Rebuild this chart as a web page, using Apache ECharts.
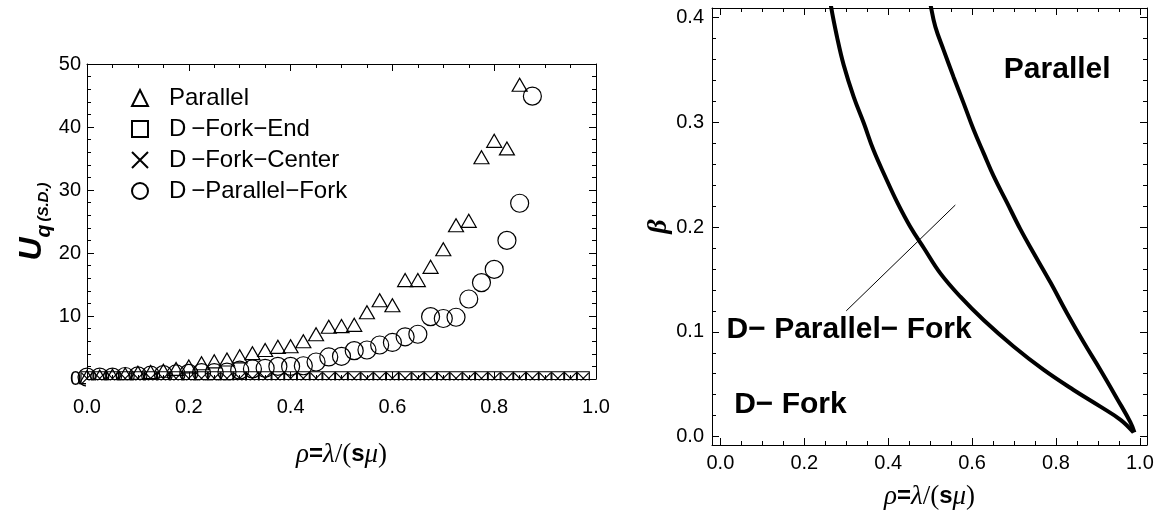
<!DOCTYPE html>
<html>
<head>
<meta charset="utf-8">
<script src="https://cdn.jsdelivr.net/npm/echarts@6/dist/echarts.min.js"></script>
<style>
  html, body { margin: 0; padding: 0; background: #fff; }
  #chart { width: 1162px; height: 523px; }
</style>
</head>
<body>
<div id="chart"></div>
<script>
// left panel: U_q(S.D.) against rho
var rho = [0, 0.025, 0.05, 0.075, 0.1, 0.125, 0.15, 0.175, 0.2, 0.225,
  0.25, 0.275, 0.3, 0.325, 0.35, 0.375, 0.4, 0.425, 0.45, 0.475,
  0.5, 0.525, 0.55, 0.575, 0.6, 0.625, 0.65, 0.675, 0.7, 0.725,
  0.75, 0.775, 0.8, 0.825, 0.85, 0.875, 0.9, 0.925, 0.95, 0.975]
var parallel = [0.3, 0.4, 0.5, 0.7, 1.0, 1.1, 1.3, 1.6, 2.0, 2.5,
  2.8, 3.1, 3.6, 4.1, 4.6, 5.1, 5.2, 6.0, 7.1, 8.3,
  8.4, 8.6, 10.6, 12.5, 11.7, 15.7, 15.7, 17.8, 20.6, 24.4,
  25.1, 35.2, 37.8, 36.6, 46.7]
var dParallelFork = [0.3, 0.3, 0.3, 0.4, 0.5, 0.6, 0.7, 0.8, 0.9, 1.0,
  1.0, 1.1, 1.4, 1.6, 1.7, 2.0, 2.0, 2.1, 2.7, 3.5,
  3.6, 4.5, 4.6, 5.4, 5.8, 6.7, 7.1, 9.9, 9.6, 9.8,
  12.7, 15.3, 17.4, 22.0, 27.9, 44.9]
var dForkEnd = [0.2, 0.2, 0.2, 0.2, 0.2, 0.2, 0.2, 0.2, 0.2, 0.2,
  0.2, 0.2, 0.2, 0.2, 0.2, 0.2, 0.2, 0.2, 0.2, 0.2,
  0.2, 0.2, 0.2, 0.2, 0.2, 0.2, 0.2, 0.2, 0.2, 0.2,
  0.2, 0.2, 0.2, 0.2, 0.2, 0.2, 0.2, 0.2, 0.2, 0.2]
var dForkCenter = [0.1, 0.1, 0.1, 0.1, 0.1, 0.1, 0.1, 0.1, 0.1, 0.1,
  0.1, 0.1, 0.1, 0.1, 0.1, 0.1, 0.1, 0.1, 0.1, 0.1,
  0.1, 0.1, 0.1, 0.1, 0.1, 0.1, 0.1, 0.1, 0.1, 0.1,
  0.1, 0.1, 0.1, 0.1, 0.1, 0.1, 0.1, 0.1, 0.1, 0.1]

// right panel: region borders in (rho, beta)
var borderLower = [[0.262, 0.42], [0.264, 0.410], [0.278, 0.3815], [0.294, 0.3545],
  [0.318, 0.324], [0.342, 0.299], [0.365, 0.2734], [0.393, 0.248], [0.421, 0.224],
  [0.453, 0.200], [0.485, 0.180], [0.524, 0.156], [0.572, 0.1335], [0.628, 0.111],
  [0.699, 0.086], [0.771, 0.0636], [0.842, 0.0445], [0.906, 0.0286], [0.954, 0.016],
  [0.985, 0.004]]
var borderUpper = [[0.499, 0.42], [0.502, 0.410], [0.5125, 0.391], [0.532, 0.369],
  [0.556, 0.343], [0.580, 0.318], [0.604, 0.2925], [0.628, 0.270], [0.652, 0.248],
  [0.683, 0.2235], [0.715, 0.198], [0.747, 0.175], [0.787, 0.147], [0.826, 0.118],
  [0.866, 0.090], [0.906, 0.0636], [0.946, 0.036], [0.977, 0.014], [0.987, 0.004]]
var pointer = [[0.560, 0.221], [0.300, 0.120]]
var regionNames = ['Parallel', 'D\u2212 Parallel\u2212 Fork', 'D\u2212 Fork']

// tick labels
var xMajor = [0, 0.2, 0.4, 0.6, 0.8, 1.0]
var xMinor = [0.05, 0.1, 0.15, 0.25, 0.3, 0.35, 0.45, 0.5, 0.55, 0.65, 0.7, 0.75, 0.85, 0.9, 0.95]
var uMajor = [0, 10, 20, 30, 40, 50]
var uMinor = [2, 4, 6, 8, 12, 14, 16, 18, 22, 24, 26, 28, 32, 34, 36, 38, 42, 44, 46, 48]
var bMajor = [0, 0.1, 0.2, 0.3, 0.4]
var bMinor = [0.02, 0.04, 0.06, 0.08, 0.12, 0.14, 0.16, 0.18, 0.22, 0.24, 0.26, 0.28, 0.32, 0.34, 0.36, 0.38]

var SANS = 'Liberation Sans'
var SERIF = 'Liberation Serif'

function zip(xs, ys) {
  return ys.map(function (y, i) { return [xs[i], y] })
}

// frame on all four sides: main major, main minor, opposite major, opposite minor
function frameAxes(grid, pos, opp, min, max, majors, minors, label, extra) {
  var base = { type: 'value', gridIndex: grid, min: min, max: max, splitLine: { show: false } }
  var mainMajor = Object.assign({}, base, {
    position: pos,
    axisLine: { show: true, onZero: false, lineStyle: { color: '#000', width: 1 } },
    axisTick: { show: true, inside: true, length: 7, customValues: majors, lineStyle: { color: '#000' } },
    axisLabel: Object.assign({ show: true, customValues: majors, color: '#000', fontFamily: SANS, fontSize: 20 }, label)
  }, extra)
  var minorOf = function (p) {
    return Object.assign({}, base, {
      position: p,
      axisLine: { show: false, onZero: false },
      axisTick: { show: true, inside: true, length: 4, customValues: minors, lineStyle: { color: '#000' } },
      axisLabel: { show: false }
    })
  }
  var oppMajor = Object.assign({}, base, {
    position: opp,
    axisLine: { show: true, onZero: false, lineStyle: { color: '#000', width: 1 } },
    axisTick: { show: true, inside: true, length: 7, customValues: majors, lineStyle: { color: '#000' } },
    axisLabel: { show: false }
  })
  return [mainMajor, minorOf(pos), oppMajor, minorOf(opp)]
}

var rhoName = '{it|\u03c1}{b|=}{it|\u03bb}{r|/(}{s|s}{it|\u03bc}{r|)}'
var rhoRich = {
  it: { fontFamily: SERIF, fontStyle: 'italic', fontSize: 27, color: '#000' },
  b: { fontFamily: SANS, fontWeight: 'bold', fontSize: 24, color: '#000' },
  r: { fontFamily: SERIF, fontSize: 27, color: '#000' },
  s: { fontFamily: SANS, fontWeight: 'bold', fontSize: 24, color: '#000' }
}

var fmt1 = function (v) { return v.toFixed(1) }

var xAxes = [].concat(
  frameAxes(0, 'bottom', 'top', 0, 1, xMajor, xMinor, { formatter: fmt1, margin: 18 },
    { name: rhoName, nameLocation: 'middle', nameGap: 62, nameTextStyle: { rich: rhoRich } }),
  frameAxes(1, 'bottom', 'top', -0.02, 1.017, xMajor, xMinor, { formatter: fmt1, margin: 8 },
    { name: rhoName, nameLocation: 'middle', nameGap: 38, nameTextStyle: { rich: rhoRich } })
)
var yAxes = [].concat(
  frameAxes(0, 'left', 'right', 0, 50, uMajor, uMinor, { margin: 6 },
    {
      name: '{u|U}{q|q}{sd|\u2009(S.D.)}', nameLocation: 'middle', nameRotate: 90, nameGap: 31,
      nameTextStyle: {
        rich: {
          u: { fontFamily: SANS, fontWeight: 'bold', fontStyle: 'italic', fontSize: 32, color: '#000', verticalAlign: 'bottom', padding: [0, 0, 7, 0] },
          q: { fontFamily: SANS, fontWeight: 'bold', fontStyle: 'italic', fontSize: 21, color: '#000', verticalAlign: 'bottom' },
          sd: { fontFamily: SANS, fontWeight: 'bold', fontStyle: 'italic', fontSize: 15, color: '#000', verticalAlign: 'bottom', padding: [0, 0, 3, 0] }
        }
      }
    }),
  frameAxes(1, 'left', 'right', -0.008, 0.409, bMajor, bMinor, { formatter: fmt1, margin: 8 },
    {
      name: '\u03b2', nameLocation: 'middle', nameRotate: 90, nameGap: 24,
      nameTextStyle: { fontFamily: SERIF, fontStyle: 'italic', fontWeight: 'bold', fontSize: 28, color: '#000' }
    })
)

var hollow = { color: 'rgba(0,0,0,0)', borderColor: '#000', borderWidth: 1.2, opacity: 1 }

var option = {
  animation: false,
  backgroundColor: '#fff',
  grid: [
    { left: 87, top: 64, width: 509, height: 315 },
    { left: 712, top: 8, width: 435, height: 437 }
  ],
  xAxis: xAxes,
  yAxis: yAxes,
  legend: {
    left: 126, top: 81, orient: 'vertical', itemGap: 7,
    itemWidth: 16, itemHeight: 16,
    data: ['Parallel', 'D\u2009\u2212Fork\u2212End', 'D\u2009\u2212Fork\u2212Center', 'D\u2009\u2212Parallel\u2212Fork'],
    textStyle: { fontFamily: SANS, fontSize: 24, color: '#000', lineHeight: 24, padding: [0, 0, 0, 16] }
  },
  // white strip under the left frame, so markers at zero look cut by the frame
  graphic: [{
    type: 'rect', left: 86, top: 380.5, z: 100,
    shape: { width: 520, height: 9 },
    style: { fill: '#fff' }
  }],
  series: [
    {
      name: 'Parallel', type: 'scatter', xAxisIndex: 0, yAxisIndex: 0,
      symbol: 'triangle', symbolSize: [15, 13], itemStyle: hollow,
      data: zip(rho, parallel)
    },
    {
      name: 'D\u2009\u2212Fork\u2212End', type: 'scatter', xAxisIndex: 0, yAxisIndex: 0,
      symbol: 'rect', symbolSize: 12, itemStyle: hollow,
      data: zip(rho, dForkEnd)
    },
    {
      name: 'D\u2009\u2212Fork\u2212Center', type: 'scatter', xAxisIndex: 0, yAxisIndex: 0,
      symbol: 'path://M0,0L10,10M10,0L0,10', symbolSize: 11, itemStyle: hollow,
      data: zip(rho, dForkCenter)
    },
    {
      name: 'D\u2009\u2212Parallel\u2212Fork', type: 'scatter', xAxisIndex: 0, yAxisIndex: 0,
      symbol: 'circle', symbolSize: 18, itemStyle: hollow,
      data: zip(rho, dParallelFork)
    },
    {
      type: 'line', xAxisIndex: 4, yAxisIndex: 4, smooth: 0.4, symbol: 'none',
      lineStyle: { color: '#000', width: 4 }, data: borderLower
    },
    {
      type: 'line', xAxisIndex: 4, yAxisIndex: 4, smooth: 0.4, symbol: 'none',
      lineStyle: { color: '#000', width: 4 }, data: borderUpper
    },
    {
      type: 'line', xAxisIndex: 4, yAxisIndex: 4, symbol: 'none',
      lineStyle: { color: '#000', width: 1 }, data: pointer
    },
    {
      type: 'scatter', xAxisIndex: 4, yAxisIndex: 4, symbolSize: 0, silent: true,
      itemStyle: { opacity: 1 },
      label: {
        show: true, position: 'inside', formatter: '{b}',
        fontFamily: SANS, fontWeight: 'bold', fontSize: 30, color: '#000'
      },
      data: [
        { name: regionNames[0], value: [0.803, 0.350] },
        { name: regionNames[1], value: [0.307, 0.102] },
        { name: regionNames[2], value: [0.167, 0.030] }
      ]
    }
  ]
}

var myChart = echarts.init(document.getElementById('chart'))
myChart.setOption(option)
</script>
</body>
</html>
